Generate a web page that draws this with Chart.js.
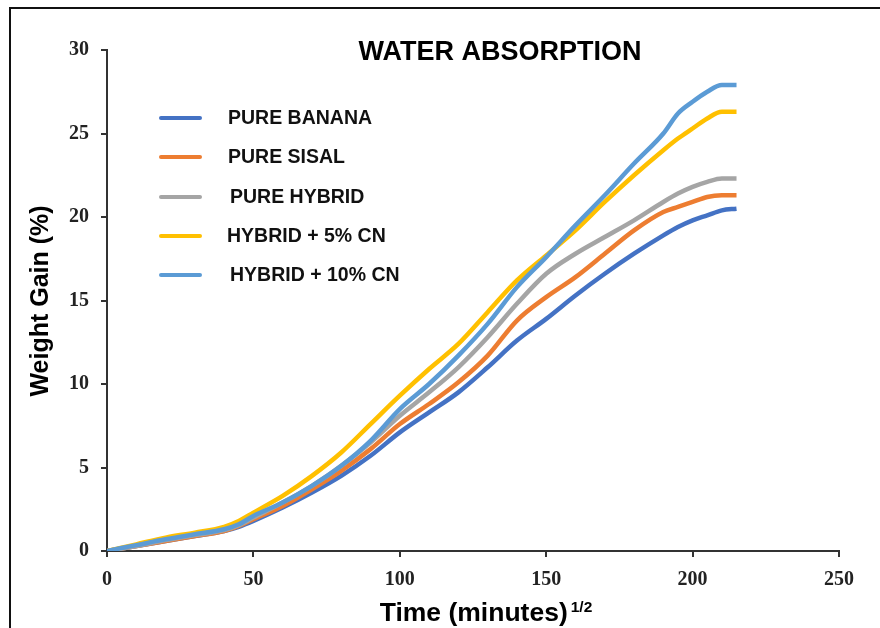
<!DOCTYPE html>
<html>
<head>
<meta charset="utf-8">
<script src="https://cdn.jsdelivr.net/npm/chart.js@4"></script>
<style>
  html, body { margin: 0; padding: 0; background: #fff; }
  #wrap { width: 880px; height: 628px; position: relative; }
</style>
</head>
<body>
<div id="wrap"><canvas id="c" width="880" height="628"></canvas></div>
<script>
// ---- data ----
const chartTitle = 'WATER ABSORPTION';
const xAxisTitle = 'Time (minutes)';
const xAxisTitleSup = '1/2';
const yAxisTitle = 'Weight Gain (%)';
const seriesLabels = ['PURE BANANA', 'PURE SISAL', 'PURE HYBRID', 'HYBRID + 5% CN', 'HYBRID + 10% CN'];
const timeValues = [0, 10, 20, 30, 40, 45, 50, 60, 70, 80, 90, 100, 110, 120, 130, 140, 150, 160, 170, 180, 190, 195, 200, 205, 210, 215];
const pureBanana = [0, 0.3, 0.6, 0.9, 1.2, 1.45, 1.8, 2.6, 3.5, 4.5, 5.7, 7.1, 8.3, 9.5, 11.0, 12.6, 13.9, 15.3, 16.6, 17.8, 18.9, 19.4, 19.8, 20.1, 20.4, 20.5];
const pureSisal = [0, 0.3, 0.6, 0.9, 1.2, 1.5, 1.9, 2.7, 3.7, 4.8, 6.1, 7.6, 8.8, 10.1, 11.7, 13.8, 15.2, 16.4, 17.8, 19.2, 20.3, 20.6, 20.9, 21.2, 21.3, 21.3];
const pureHybrid = [0, 0.3, 0.65, 0.95, 1.25, 1.55, 2.0, 2.9, 3.9, 5.1, 6.5, 8.1, 9.5, 11.0, 12.8, 14.8, 16.6, 17.8, 18.8, 19.8, 20.9, 21.4, 21.8, 22.1, 22.3, 22.3];
const hybrid5CN = [0, 0.4, 0.8, 1.1, 1.45, 1.8, 2.3, 3.3, 4.5, 5.9, 7.6, 9.3, 10.9, 12.4, 14.3, 16.2, 17.7, 19.2, 20.9, 22.5, 24.0, 24.7, 25.3, 25.9, 26.3, 26.3];
const hybrid10CN = [0, 0.35, 0.7, 1.0, 1.3, 1.6, 2.1, 2.9, 3.9, 5.1, 6.6, 8.5, 10.0, 11.7, 13.6, 15.8, 17.6, 19.5, 21.3, 23.2, 25.0, 26.2, 26.9, 27.5, 27.9, 27.9];
const seriesColors = ['#4472C4', '#ED7D31', '#A5A5A5', '#FFC000', '#5B9BD5'];
const allSeries = [pureBanana, pureSisal, pureHybrid, hybrid5CN, hybrid10CN];

const datasets = allSeries.map((vals, i) => ({
  label: seriesLabels[i],
  data: timeValues.map((t, j) => ({ x: t, y: vals[j] })),
  borderColor: seriesColors[i],
  backgroundColor: seriesColors[i],
  borderWidth: 4.5,
  pointRadius: 0,
  fill: false,
  cubicInterpolationMode: 'monotone',
  order: allSeries.length - i
}));

const decor = {
  id: 'decor',
  afterDraw(chart) {
    const ctx = chart.ctx;
    ctx.save();
    // frame (top & left edges)
    ctx.fillStyle = '#111';
    ctx.fillRect(9, 7, 871, 2);
    ctx.fillRect(9, 7, 2, 621);
    // title
    ctx.fillStyle = '#000';
    ctx.font = 'bold 27px "Liberation Sans", Arial, sans-serif';
    ctx.textAlign = 'center';
    ctx.textBaseline = 'middle';
    ctx.fillText(chartTitle, 500, 53);
    // legend
    const legY = [118, 157, 197, 236, 275];
    const legX = [228, 228, 230, 227, 230];
    ctx.font = 'bold 19.5px "Liberation Sans", Arial, sans-serif';
    ctx.textAlign = 'left';
    chart.data.datasets.forEach((ds, i) => {
      ctx.strokeStyle = ds.borderColor;
      ctx.lineWidth = 4;
      ctx.lineCap = 'round';
      ctx.beginPath();
      ctx.moveTo(161, legY[i]);
      ctx.lineTo(200, legY[i]);
      ctx.stroke();
      ctx.fillStyle = '#111';
      ctx.fillText(ds.label, legX[i], legY[i] + 1);
    });
    // x axis title with superscript
    ctx.font = 'bold 26.5px "Liberation Sans", Arial, sans-serif';
    ctx.textBaseline = 'alphabetic';
    const w1 = ctx.measureText(xAxisTitle).width;
    ctx.font = 'bold 15.5px "Liberation Sans", Arial, sans-serif';
    const w2 = ctx.measureText(xAxisTitleSup).width;
    const startX = 486 - (w1 + w2 + 3) / 2;
    ctx.font = 'bold 26.5px "Liberation Sans", Arial, sans-serif';
    ctx.fillStyle = '#000';
    ctx.fillText(xAxisTitle, startX, 621);
    ctx.font = 'bold 15.5px "Liberation Sans", Arial, sans-serif';
    ctx.fillText(xAxisTitleSup, startX + w1 + 3, 612);
    // y axis title
    ctx.translate(48, 301);
    ctx.rotate(-Math.PI / 2);
    ctx.font = 'bold 25px "Liberation Sans", Arial, sans-serif';
    ctx.textAlign = 'center';
    ctx.fillText(yAxisTitle, 0, 0);
    ctx.restore();
  }
};

const tickFont = { family: '"Liberation Serif", "Times New Roman", serif', size: 20, weight: 'bold' };

new Chart(document.getElementById('c'), {
  type: 'line',
  data: { datasets },
  options: {
    responsive: false,
    animation: false,
    layout: { padding: { left: 0, right: 41, top: 50, bottom: 0 } },
    plugins: { legend: { display: false }, title: { display: false }, tooltip: { enabled: false } },
    scales: {
      x: {
        type: 'linear', min: 0, max: 250,
        ticks: { stepSize: 50, font: tickFont, color: '#222', padding: 11, maxRotation: 0 },
        grid: { display: true, drawOnChartArea: false, drawTicks: true, tickLength: 6, color: '#333', lineWidth: 2 },
        border: { display: true, color: '#333', width: 2 },
        afterFit(s) { s.height = 77; }
      },
      y: {
        min: 0, max: 30,
        ticks: { stepSize: 5, font: tickFont, color: '#222', padding: 12 },
        grid: { display: true, drawOnChartArea: false, drawTicks: true, tickLength: 6, color: '#333', lineWidth: 2 },
        border: { display: true, color: '#333', width: 2 },
        afterFit(s) { s.width = 107; }
      }
    }
  },
  plugins: [decor]
});
</script>
</body>
</html>
